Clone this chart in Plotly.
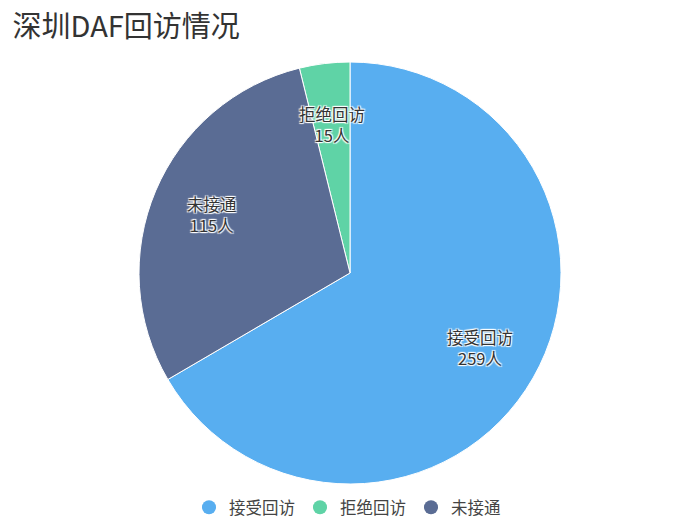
import math
import plotly.graph_objects as go

labels = ['接受回访', '拒绝回访', '未接通']
values = [259, 15, 115]
colors = ['#58aef0', '#5fd3a6', '#5a6c94']
title = '深圳DAF回访情况'

font = 'Noto Sans CJK SC, Microsoft YaHei, sans-serif'
total = sum(values)

W, H = 695, 525
cx, cy, r = 350, 273, 211   # pie centre and radius in pixels
dom_x = [(cx - r) / W, (cx + r) / W]
dom_y = [1 - (cy + r) / H, 1 - (cy - r) / H]

halo = ('1px 1px 1px white, -1px -1px 1px white, '
        '1px -1px 1px white, -1px 1px 1px white')

fig = go.Figure()
# counterclockwise: first slice starts at rotation + its own angle
fig.add_trace(go.Pie(
    labels=labels, values=values, sort=False,
    direction='counterclockwise', rotation=0,
    marker=dict(colors=colors, line=dict(color='white', width=1)),
    textinfo='none',
    hoverinfo='label+value+percent', showlegend=False,
    domain=dict(x=dom_x, y=dom_y),
))

# labels placed at the middle angle of each slice (ECharts style, not shrunk)
ang = 360 * values[0] / total  # clockwise angle from 12 o'clock
for lab, v in zip(labels, values):
    mid = ang - 360 * v / total / 2
    ang -= 360 * v / total
    a = math.radians(mid)
    px = cx + 0.71 * r * math.sin(a)
    py = cy - 0.71 * r * math.cos(a)
    fig.add_annotation(
        x=px / W, y=1 - py / H, xref='paper', yref='paper',
        xanchor='center', yanchor='middle',
        text=f'{lab}<br>{v}人', showarrow=False,
        font=dict(family=font, size=16.5, color='#333', shadow=halo),
    )

# legend with round markers, like the original
for name, c in zip(labels, colors):
    fig.add_trace(go.Scatter(x=[None], y=[None], mode='markers', name=name,
                             marker=dict(color=c, size=14, symbol='circle')))

fig.update_layout(
    width=W, height=H,
    margin=dict(l=0, r=0, t=0, b=0),
    paper_bgcolor='white', plot_bgcolor='white',
    font=dict(family=font, color='#333'),
    title=dict(text=title, x=0.018, xanchor='left', y=0.948, yanchor='middle',
               font=dict(size=29, color='#333', family=font)),
    xaxis=dict(visible=False), yaxis=dict(visible=False),
    legend=dict(orientation='h', x=0.5, xanchor='center', y=0.0, yanchor='bottom',
                font=dict(size=16.5, color='#444'), itemwidth=30),
)

fig.write_html('out.html', config={'displayModeBar': False},
               post_script="document.body.style.margin='0px';")
